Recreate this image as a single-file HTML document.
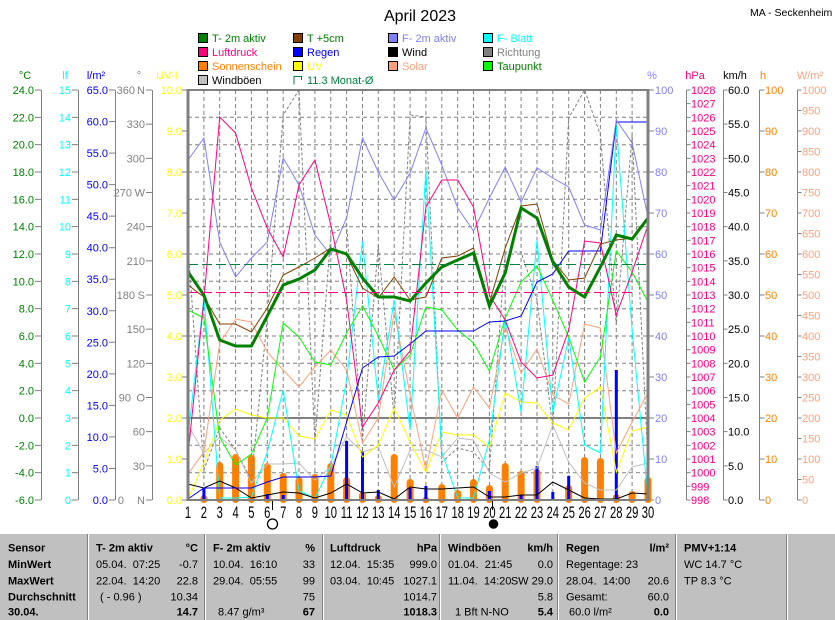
<!DOCTYPE html>
<html><head><meta charset="utf-8"><style>
html,body{margin:0;padding:0;background:#fff;}
svg{display:block;}
text{white-space:pre;}
</style></head><body>
<svg width="835" height="620" xmlns="http://www.w3.org/2000/svg" font-family="'Liberation Sans', Arial, sans-serif" font-size="11">
<rect x="0" y="0" width="835" height="620" fill="#fff"/>
<!-- Title -->
<text x="420" y="21" font-size="16" text-anchor="middle" fill="#000">April 2023</text>
<text x="750" y="16" font-size="10.5" fill="#000">MA - Seckenheim</text>

<!-- Legend -->
<g stroke="#000" stroke-width="1">
<rect x="198.5" y="33.5" width="9" height="9" fill="#008000"/>
<rect x="198.5" y="47.5" width="9" height="9" fill="#ff0080"/>
<rect x="198.5" y="61.5" width="9" height="9" fill="#ff8000"/>
<rect x="198.5" y="75.5" width="9" height="9" fill="#c0c0c0"/>
<rect x="293.5" y="33.5" width="9" height="9" fill="#804000"/>
<rect x="293.5" y="47.5" width="9" height="9" fill="#0000ff"/>
<rect x="293.5" y="61.5" width="9" height="9" fill="#ffff00"/>
<rect x="388.5" y="33.5" width="9" height="9" fill="#8080ff"/>
<rect x="388.5" y="47.5" width="9" height="9" fill="#000000"/>
<rect x="388.5" y="61.5" width="9" height="9" fill="#ffa07a"/>
<rect x="483.5" y="33.5" width="9" height="9" fill="#00ffff"/>
<rect x="483.5" y="47.5" width="9" height="9" fill="#808080"/>
<rect x="483.5" y="61.5" width="9" height="9" fill="#00ff00"/>
</g>
<path d="M294,84.5 V76.5 H301.5 V80" fill="none" stroke="#008040" stroke-width="1"/>
<text x="212" y="42" fill="#008000">T- 2m aktiv</text>
<text x="212" y="56" fill="#ff0080">Luftdruck</text>
<text x="212" y="70" fill="#ff8000">Sonnenschein</text>
<text x="212" y="84" fill="#000">Windböen</text>
<text x="307" y="42" fill="#008000">T +5cm</text>
<text x="307" y="56" fill="#0000ff">Regen</text>
<text x="307" y="70" fill="#ffff00">UV</text>
<text x="307" y="84" fill="#008040">11.3 Monat-Ø</text>
<text x="402" y="42" fill="#8080ff">F- 2m aktiv</text>
<text x="402" y="56" fill="#000">Wind</text>
<text x="402" y="70" fill="#ffa07a">Solar</text>
<text x="497" y="42" fill="#00ffff">F- Blatt</text>
<text x="497" y="56" fill="#808080">Richtung</text>
<text x="497" y="70" fill="#008000">Taupunkt</text>

<!-- Axis headers -->
<text x="25" y="79" text-anchor="middle" fill="#008000">°C</text>
<text x="65" y="79" text-anchor="middle" fill="#00ffff">lf</text>
<text x="96" y="79" text-anchor="middle" fill="#0000ff">l/m²</text>
<text x="139" y="79" text-anchor="middle" fill="#808080">°</text>
<text x="167" y="79" text-anchor="middle" fill="#ffff00">UV-I</text>
<text x="652" y="79" text-anchor="middle" fill="#8080ff">%</text>
<text x="695" y="79" text-anchor="middle" fill="#ff0080">hPa</text>
<text x="735" y="79" text-anchor="middle" fill="#000">km/h</text>
<text x="763" y="79" text-anchor="middle" fill="#ff8000">h</text>
<text x="810" y="79" text-anchor="middle" fill="#ffa07a">W/m²</text>

<!-- Axis lines -->
<g stroke="#808080" stroke-width="1" fill="none">
<line x1="41.5" y1="90" x2="41.5" y2="500"/>
<line x1="78.5" y1="90" x2="78.5" y2="500"/>
<line x1="115.5" y1="90" x2="115.5" y2="500"/>
<line x1="152.5" y1="90" x2="152.5" y2="500"/>
<line x1="686.5" y1="90" x2="686.5" y2="500"/>
<line x1="723.5" y1="90" x2="723.5" y2="500"/>
<line x1="759.5" y1="90" x2="759.5" y2="500"/>
<line x1="797.5" y1="90" x2="797.5" y2="500"/>
</g>
<!-- Ticks via dasharray -->
<g stroke="#808080" fill="none">
<line x1="38" y1="89.5" x2="38" y2="501" stroke-width="6" stroke-dasharray="1 26.333"/>
<line x1="75" y1="89.5" x2="75" y2="501" stroke-width="6" stroke-dasharray="1 26.333"/>
<line x1="112" y1="89.5" x2="112" y2="501" stroke-width="6" stroke-dasharray="1 30.538"/>
<line x1="149" y1="89.5" x2="149" y2="501" stroke-width="6" stroke-dasharray="1 33.167"/>
<line x1="185" y1="89.5" x2="185" y2="501" stroke-width="6" stroke-dasharray="1 40"/>
<line x1="651" y1="89.5" x2="651" y2="501" stroke-width="6" stroke-dasharray="1 40"/>
<line x1="688.5" y1="89.5" x2="688.5" y2="501" stroke-width="4" stroke-dasharray="1 12.667"/>
<line x1="725.5" y1="89.5" x2="725.5" y2="501" stroke-width="4" stroke-dasharray="1 33.167"/>
<line x1="762" y1="89.5" x2="762" y2="501" stroke-width="5" stroke-dasharray="1 40"/>
<line x1="799.5" y1="89.5" x2="799.5" y2="501" stroke-width="4" stroke-dasharray="1 19.5"/>
</g>

<!-- Left labels -->
<g fill="#008000" text-anchor="end">
<text x="34" y="94">24.0</text><text x="34" y="121.3">22.0</text><text x="34" y="148.7">20.0</text><text x="34" y="176">18.0</text>
<text x="34" y="203.3">16.0</text><text x="34" y="230.7">14.0</text><text x="34" y="258">12.0</text><text x="34" y="285.3">10.0</text>
<text x="34" y="312.7">8.0</text><text x="34" y="340">6.0</text><text x="34" y="367.3">4.0</text><text x="34" y="394.7">2.0</text>
<text x="34" y="422">0.0</text><text x="34" y="449.3">-2.0</text><text x="34" y="476.7">-4.0</text><text x="34" y="504">-6.0</text>
</g>
<g fill="#00ffff" text-anchor="end">
<text x="71" y="94">15</text><text x="71" y="121.3">14</text><text x="71" y="148.7">13</text><text x="71" y="176">12</text>
<text x="71" y="203.3">11</text><text x="71" y="230.7">10</text><text x="71" y="258">9</text><text x="71" y="285.3">8</text>
<text x="71" y="312.7">7</text><text x="71" y="340">6</text><text x="71" y="367.3">5</text><text x="71" y="394.7">4</text>
<text x="71" y="422">3</text><text x="71" y="449.3">2</text><text x="71" y="476.7">1</text><text x="71" y="504">0</text>
</g>
<g fill="#0000ff" text-anchor="end">
<text x="108" y="94">65.0</text><text x="108" y="125.5">60.0</text><text x="108" y="157.1">55.0</text><text x="108" y="188.6">50.0</text>
<text x="108" y="220.2">45.0</text><text x="108" y="251.7">40.0</text><text x="108" y="283.2">35.0</text><text x="108" y="314.8">30.0</text>
<text x="108" y="346.3">25.0</text><text x="108" y="377.8">20.0</text><text x="108" y="409.4">15.0</text><text x="108" y="440.9">10.0</text>
<text x="108" y="472.5">5.0</text><text x="108" y="504">0.0</text>
</g>
<g fill="#808080" text-anchor="end">
<text x="135" y="94">360</text><text x="145" y="94">N</text>
<text x="145" y="128.2">330</text><text x="145" y="162.3">300</text>
<text x="132" y="196.5">270</text><text x="145" y="196.5">W</text>
<text x="145" y="230.7">240</text><text x="145" y="264.8">210</text>
<text x="135" y="299">180</text><text x="145" y="299">S</text>
<text x="145" y="333.2">150</text><text x="145" y="367.3">120</text>
<text x="131" y="401.5">90</text><text x="145" y="401.5">O</text>
<text x="145" y="435.7">60</text><text x="145" y="469.8">30</text>
<text x="124" y="504">0</text><text x="145" y="504">N</text>
</g>
<g fill="#ffff00" text-anchor="end">
<text x="182" y="94">10.0</text><text x="182" y="135">9.0</text><text x="182" y="176">8.0</text><text x="182" y="217">7.0</text>
<text x="182" y="258">6.0</text><text x="182" y="299">5.0</text><text x="182" y="340">4.0</text><text x="182" y="381">3.0</text>
<text x="182" y="422">2.0</text><text x="182" y="463">1.0</text><text x="182" y="504">0.0</text>
</g>

<!-- Right labels -->
<g fill="#8080ff">
<text x="655" y="94">100</text><text x="655" y="135">90</text><text x="655" y="176">80</text><text x="655" y="217">70</text>
<text x="655" y="258">60</text><text x="655" y="299">50</text><text x="655" y="340">40</text><text x="655" y="381">30</text>
<text x="655" y="422">20</text><text x="655" y="463">10</text><text x="655" y="504">0</text>
</g>
<g fill="#ff0080">
<text x="691" y="94">1028</text><text x="691" y="107.7">1027</text><text x="691" y="121.3">1026</text><text x="691" y="135">1025</text>
<text x="691" y="148.7">1024</text><text x="691" y="162.3">1023</text><text x="691" y="176">1022</text><text x="691" y="189.7">1021</text>
<text x="691" y="203.3">1020</text><text x="691" y="217">1019</text><text x="691" y="230.7">1018</text><text x="691" y="244.3">1017</text>
<text x="691" y="258">1016</text><text x="691" y="271.7">1015</text><text x="691" y="285.3">1014</text><text x="691" y="299">1013</text>
<text x="691" y="312.7">1012</text><text x="691" y="326.3">1011</text><text x="691" y="340">1010</text><text x="691" y="353.7">1009</text>
<text x="691" y="367.3">1008</text><text x="691" y="381">1007</text><text x="691" y="394.7">1006</text><text x="691" y="408.3">1005</text>
<text x="691" y="422">1004</text><text x="691" y="435.7">1003</text><text x="691" y="449.3">1002</text><text x="691" y="463">1001</text>
<text x="691" y="476.7">1000</text><text x="691" y="490.3">999</text><text x="691" y="504">998</text>
</g>
<g fill="#000">
<text x="728" y="94">60.0</text><text x="728" y="128.2">55.0</text><text x="728" y="162.3">50.0</text><text x="728" y="196.5">45.0</text>
<text x="728" y="230.7">40.0</text><text x="728" y="264.8">35.0</text><text x="728" y="299">30.0</text><text x="728" y="333.2">25.0</text>
<text x="728" y="367.3">20.0</text><text x="728" y="401.5">15.0</text><text x="728" y="435.7">10.0</text><text x="728" y="469.8">5.0</text>
<text x="728" y="504">0.0</text>
</g>
<g fill="#ff8000">
<text x="765" y="94">100</text><text x="765" y="135">90</text><text x="765" y="176">80</text><text x="765" y="217">70</text>
<text x="765" y="258">60</text><text x="765" y="299">50</text><text x="765" y="340">40</text><text x="765" y="381">30</text>
<text x="765" y="422">20</text><text x="765" y="463">10</text><text x="765" y="504">0</text>
</g>
<g fill="#ffa07a">
<text x="802" y="94">1000</text><text x="802" y="114.5">950</text><text x="802" y="135">900</text><text x="802" y="155.5">850</text>
<text x="802" y="176">800</text><text x="802" y="196.5">750</text><text x="802" y="217">700</text><text x="802" y="237.5">650</text>
<text x="802" y="258">600</text><text x="802" y="278.5">550</text><text x="802" y="299">500</text><text x="802" y="319.5">450</text>
<text x="802" y="340">400</text><text x="802" y="360.5">350</text><text x="802" y="381">300</text><text x="802" y="401.5">250</text>
<text x="802" y="422">200</text><text x="802" y="442.5">150</text><text x="802" y="463">100</text><text x="802" y="483.5">50</text>
<text x="802" y="504">0</text>
</g>

<!-- Grid -->
<g stroke="#808080" stroke-width="1" stroke-dasharray="4 3" fill="none">
<path d="M203.9,90V500M219.7,90V500M235.6,90V500M251.4,90V500M267.3,90V500M283.2,90V500M299,90V500M314.9,90V500M330.8,90V500M346.6,90V500M362.5,90V500M378.3,90V500M394.2,90V500M410.1,90V500M425.9,90V500M441.8,90V500M457.7,90V500M473.5,90V500M489.4,90V500M505.2,90V500M521.1,90V500M537,90V500M552.8,90V500M568.7,90V500M584.6,90V500M600.4,90V500M616.3,90V500M632.1,90V500"/>
<path d="M188,117.3H648M188,144.7H648M188,172H648M188,199.3H648M188,226.7H648M188,254H648M188,281.3H648M188,308.7H648M188,336H648M188,363.3H648M188,390.7H648M188,445.3H648M188,472.7H648"/>
</g>
<line x1="188" y1="418" x2="648" y2="418" stroke="#808080" stroke-width="2"/>

<!-- Sunshine bars -->
<g fill="#ff8000">
<rect x="200.4" y="495" width="7" height="8" rx="3.5"/>
<rect x="216.2" y="462" width="7" height="41" rx="3.5"/>
<rect x="232.1" y="454" width="7" height="49" rx="3.5"/>
<rect x="247.9" y="455" width="7" height="48" rx="3.5"/>
<rect x="263.8" y="463" width="7" height="40" rx="3.5"/>
<rect x="279.7" y="473" width="7" height="30" rx="3.5"/>
<rect x="295.5" y="477" width="7" height="26" rx="3.5"/>
<rect x="311.4" y="474" width="7" height="29" rx="3.5"/>
<rect x="327.3" y="463" width="7" height="40" rx="3.5"/>
<rect x="343.1" y="477" width="7" height="26" rx="3.5"/>
<rect x="359" y="492" width="7" height="11" rx="3.5"/>
<rect x="374.8" y="495" width="7" height="8" rx="3.5"/>
<rect x="390.7" y="454" width="7" height="49" rx="3.5"/>
<rect x="406.6" y="479" width="7" height="24" rx="3.5"/>
<rect x="422.4" y="497" width="7" height="6" rx="3"/>
<rect x="438.3" y="484" width="7" height="19" rx="3.5"/>
<rect x="454.2" y="490" width="7" height="13" rx="3.5"/>
<rect x="470" y="479" width="7" height="24" rx="3.5"/>
<rect x="485.9" y="485" width="7" height="18" rx="3.5"/>
<rect x="501.7" y="463" width="7" height="40" rx="3.5"/>
<rect x="517.6" y="471" width="7" height="32" rx="3.5"/>
<rect x="533.5" y="469" width="7" height="34" rx="3.5"/>
<rect x="565.2" y="485" width="7" height="18" rx="3.5"/>
<rect x="581.1" y="457" width="7" height="46" rx="3.5"/>
<rect x="596.9" y="458" width="7" height="45" rx="3.5"/>
<rect x="612.8" y="494" width="7" height="9" rx="3.5"/>
<rect x="628.6" y="491" width="7" height="12" rx="3.5"/>
<rect x="644.5" y="477" width="7" height="26" rx="3.5"/>
</g>
<!-- Rain bars -->
<g stroke="#0000ff" stroke-width="3">
<path d="M203.9,488V500M267.3,494V500M283.2,495V500M346.6,441V500M362.5,451V500M378.3,490V500M410.1,488V500M425.9,486V500M489.4,491V500M521.1,495V500M537,466V500M552.8,492V500M568.7,476V500M616.3,370V500"/>
</g>

<!-- Series lines -->
<g fill="none" stroke-width="1" stroke-linejoin="miter">
<polyline stroke="#808080" stroke-dasharray="3 2" points="188,245 203.9,470 219.7,428 235.6,450 251.4,480 267.3,318 283.2,115 299,90 314.9,442 330.8,235 346.6,225 362.5,440 378.3,245 394.2,418 410.1,115 425.9,117 441.8,462 457.7,448 473.5,452 489.4,470 505.2,252 521.1,252 537,300 552.8,428 568.7,118 584.6,90 600.4,135 616.3,325 632.1,135 648,462"/>
<polyline stroke="#c0c0c0" points="188,425 203.9,453 219.7,437 235.6,450 251.4,483 267.3,464 283.2,464 299,463 314.9,480 330.8,467 346.6,437 362.5,452 378.3,447 394.2,487 410.1,450 425.9,450 441.8,457 457.7,438 473.5,440 489.4,473 505.2,482 521.1,473 537,468 552.8,425 568.7,462 584.6,483 600.4,490 616.3,490 632.1,467 648,463"/>
<polyline stroke="#ffa07a" points="188,474 203.9,452 219.7,343 235.6,319 251.4,322 267.3,352 283.2,370 299,387 314.9,367 330.8,350 346.6,370 362.5,443 378.3,418 394.2,312 410.1,395 425.9,470 441.8,390 457.7,418 473.5,387 489.4,408 505.2,327 521.1,373 537,349 552.8,395 568.7,404 584.6,324 600.4,328 616.3,453 632.1,422 648,393"/>
<polyline stroke="#ffff00" points="188,499 203.9,463 219.7,420 235.6,409 251.4,415 267.3,418 283.2,418 299,436 314.9,439 330.8,410 346.6,415 362.5,457 378.3,445 394.2,408 410.1,442 425.9,472 441.8,432 457.7,435 473.5,435 489.4,447 505.2,393 521.1,402 537,403 552.8,423 568.7,430 584.6,398 600.4,387 616.3,472 632.1,431 648,427"/>
<polyline stroke="#00ffff" points="188,436 203.9,298 219.7,498 235.6,498 251.4,497 267.3,452 283.2,390 299,491 314.9,498 330.8,466 346.6,380 362.5,241 378.3,400 394.2,300 410.1,430 425.9,170 441.8,452 457.7,498 473.5,498 489.4,440 505.2,318 521.1,412 537,240 552.8,412 568.7,338 584.6,445 600.4,453 616.3,125 632.1,330 648,498"/>
<polyline stroke="#00ff00" points="188,310 203.9,318 219.7,437 235.6,465 251.4,454 267.3,418 283.2,323 299,337 314.9,362 330.8,365 346.6,333 362.5,306 378.3,336 394.2,370 410.1,355 425.9,307 441.8,310 457.7,330 473.5,343 489.4,371 505.2,318 521.1,282 537,266 552.8,300 568.7,337 584.6,382 600.4,357 616.3,251 632.1,272 648,302"/>
<polyline stroke="#000000" points="188,484 203.9,488 219.7,481 235.6,488 251.4,498 267.3,495 283.2,492 299,493 314.9,498 330.8,493 346.6,484 362.5,493 378.3,492 394.2,499 410.1,487 425.9,489 441.8,489 457.7,488 473.5,487 489.4,497 505.2,497 521.1,495 537,495 552.8,482 568.7,490 584.6,498 600.4,499 616.3,499 632.1,493 648,494"/>
<polyline stroke="#0000ff" points="188,499 203.9,488 219.7,488 235.6,488 251.4,488 267.3,482 283.2,477 299,477 314.9,477 330.8,476 346.6,422 362.5,368 378.3,357 394.2,356 410.1,344 425.9,331 441.8,331 457.7,331 473.5,331 489.4,322 505.2,321 521.1,316 537,282 552.8,274 568.7,251 584.6,251 600.4,251 616.3,122 632.1,122 648,122"/>
<polyline stroke="#8080ff" points="188,160 203.9,138 219.7,242 235.6,277 251.4,258 267.3,242 283.2,158 299,185 314.9,235 330.8,255 346.6,218 362.5,138 378.3,172 394.2,200 410.1,173 425.9,128 441.8,165 457.7,208 473.5,231 489.4,198 505.2,167 521.1,202 537,168 552.8,178 568.7,187 584.6,225 600.4,230 616.3,120 632.1,143 648,217"/>
<polyline stroke="#ff0080" points="188,455 203.9,300 219.7,117 235.6,133 251.4,188 267.3,228 283.2,257 299,185 314.9,160 330.8,225 346.6,300 362.5,427 378.3,403 394.2,370 410.1,351 425.9,207 441.8,180 457.7,180 473.5,207 489.4,295 505.2,320 521.1,362 537,378 552.8,375 568.7,330 584.6,241 600.4,243 616.3,315 632.1,272 648,225"/>
<polyline stroke="#804000" points="188,285 203.9,297 219.7,324 235.6,324 251.4,332 267.3,308 283.2,275 299,267 314.9,258 330.8,248 346.6,255 362.5,288 378.3,298 394.2,277 410.1,300 425.9,297 441.8,258 457.7,256 473.5,248 489.4,303 505.2,248 521.1,206 537,204 552.8,260 568.7,280 584.6,278 600.4,244 616.3,240 632.1,238 648,218"/>
<polyline stroke="#008000" stroke-width="3" points="188,272 203.9,295 219.7,340 235.6,346 251.4,346 267.3,316 283.2,285 299,279 314.9,270 330.8,249 346.6,254 362.5,278 378.3,297 394.2,297 410.1,301 425.9,283 441.8,267 457.7,260 473.5,253 489.4,306 505.2,273 521.1,208 537,218 552.8,262 568.7,287 584.6,297 600.4,267 616.3,235 632.1,239 648,218"/>
</g>
<!-- Reference dashed lines -->
<line x1="188" y1="264.5" x2="648" y2="264.5" stroke="#008040" stroke-width="1" stroke-dasharray="10 4"/>
<line x1="188" y1="292.5" x2="634" y2="292.5" stroke="#ff0080" stroke-width="1" stroke-dasharray="10 4"/>

<!-- Frame -->
<g stroke="#808080" fill="none">
<line x1="188" y1="89" x2="188" y2="501" stroke-width="3"/>
<line x1="648" y1="89" x2="648" y2="501" stroke-width="3"/>
<line x1="187" y1="90" x2="649" y2="90" stroke-width="2"/>
<line x1="187" y1="500" x2="649" y2="500" stroke-width="2"/>
</g>

<!-- X labels -->
<g transform="scale(0.66,1)" font-size="17" text-anchor="middle" fill="#000">
<text x="284.8" y="518">1</text><text x="308.9" y="518">2</text><text x="332.9" y="518">3</text><text x="357" y="518">4</text>
<text x="380.9" y="518">5</text><text x="405" y="518">6</text><text x="429.1" y="518">7</text><text x="453" y="518">8</text>
<text x="477.1" y="518">9</text><text x="501.2" y="518">10</text><text x="525.2" y="518">11</text><text x="549.2" y="518">12</text>
<text x="573.2" y="518">13</text><text x="597.3" y="518">14</text><text x="621.4" y="518">15</text><text x="645.3" y="518">16</text>
<text x="669.4" y="518">17</text><text x="693.5" y="518">18</text><text x="717.4" y="518">19</text><text x="741.5" y="518">20</text>
<text x="765.5" y="518">21</text><text x="789.5" y="518">22</text><text x="813.6" y="518">23</text><text x="837.6" y="518">24</text>
<text x="861.7" y="518">25</text><text x="885.8" y="518">26</text><text x="909.7" y="518">27</text><text x="933.8" y="518">28</text>
<text x="957.7" y="518">29</text><text x="981.8" y="518">30</text>
</g>
<!-- Moon symbols -->
<line x1="272.5" y1="501" x2="272.5" y2="510" stroke="#000" stroke-width="1"/>
<circle cx="272.5" cy="524" r="5" fill="none" stroke="#000" stroke-width="1.3"/>
<line x1="492.5" y1="501" x2="492.5" y2="510" stroke="#000" stroke-width="1"/>
<circle cx="493.5" cy="524" r="4.8" fill="#000"/>

<!-- Table -->
<rect x="0" y="534" width="835" height="86" fill="#c0c0c0"/>
<g stroke-width="1">
<path d="M87.5,534V620M204.5,534V620M322.5,534V620M439.5,534V620M557.5,534V620M675.5,534V620M786.5,534V620" stroke="#808080"/>
<path d="M88.5,534V620M205.5,534V620M323.5,534V620M440.5,534V620M558.5,534V620M676.5,534V620M787.5,534V620" stroke="#ffffff"/>
</g>
<g fill="#000" font-size="11">
<g font-weight="bold">
<text x="8" y="551.7">Sensor</text><text x="8" y="568">MinWert</text><text x="8" y="584.5">MaxWert</text><text x="8" y="600.5">Durchschnitt</text><text x="8" y="615.7">30.04.</text>
<text x="96" y="551.7">T- 2m aktiv</text><text x="198" y="551.7" text-anchor="end">°C</text>
<text x="213" y="551.7">F- 2m aktiv</text><text x="315" y="551.7" text-anchor="end">%</text>
<text x="330" y="551.7">Luftdruck</text><text x="437" y="551.7" text-anchor="end">hPa</text>
<text x="448" y="551.7">Windböen</text><text x="553" y="551.7" text-anchor="end">km/h</text>
<text x="566" y="551.7">Regen</text><text x="669" y="551.7" text-anchor="end">l/m²</text>
<text x="684" y="551.7">PMV+1:14</text>
<text x="198" y="615.7" text-anchor="end">14.7</text>
<text x="315" y="615.7" text-anchor="end">67</text>
<text x="437" y="615.7" text-anchor="end">1018.3</text>
<text x="553" y="615.7" text-anchor="end">5.4</text>
<text x="669" y="615.7" text-anchor="end">0.0</text>
</g>
<text x="96" y="568">05.04.  07:25</text><text x="198" y="568" text-anchor="end">-0.7</text>
<text x="96" y="584.5">22.04.  14:20</text><text x="198" y="584.5" text-anchor="end">22.8</text>
<text x="100" y="600.5">( - 0.96 )</text><text x="198" y="600.5" text-anchor="end">10.34</text>
<text x="213" y="568">10.04.  16:10</text><text x="315" y="568" text-anchor="end">33</text>
<text x="213" y="584.5">29.04.  05:55</text><text x="315" y="584.5" text-anchor="end">99</text>
<text x="315" y="600.5" text-anchor="end">75</text>
<text x="218" y="615.7">8.47 g/m³</text>
<text x="330" y="568">12.04.  15:35</text><text x="437" y="568" text-anchor="end">999.0</text>
<text x="330" y="584.5">03.04.  10:45</text><text x="437" y="584.5" text-anchor="end">1027.1</text>
<text x="437" y="600.5" text-anchor="end">1014.7</text>
<text x="448" y="568">01.04.  21:45</text><text x="553" y="568" text-anchor="end">0.0</text>
<text x="448" y="584.5">11.04.  14:20</text><text x="553" y="584.5" text-anchor="end">SW 29.0</text>
<text x="553" y="600.5" text-anchor="end">5.8</text>
<text x="455" y="615.7">1 Bft N-NO</text>
<text x="566" y="568">Regentage: 23</text>
<text x="566" y="584.5">28.04.  14:00</text><text x="669" y="584.5" text-anchor="end">20.6</text>
<text x="566" y="600.5">Gesamt:</text><text x="669" y="600.5" text-anchor="end">60.0</text>
<text x="569" y="615.7">60.0 l/m²</text>
<text x="684" y="568">WC 14.7 °C</text>
<text x="684" y="584.5">TP 8.3 °C</text>
</g>
</svg>
</body></html>
